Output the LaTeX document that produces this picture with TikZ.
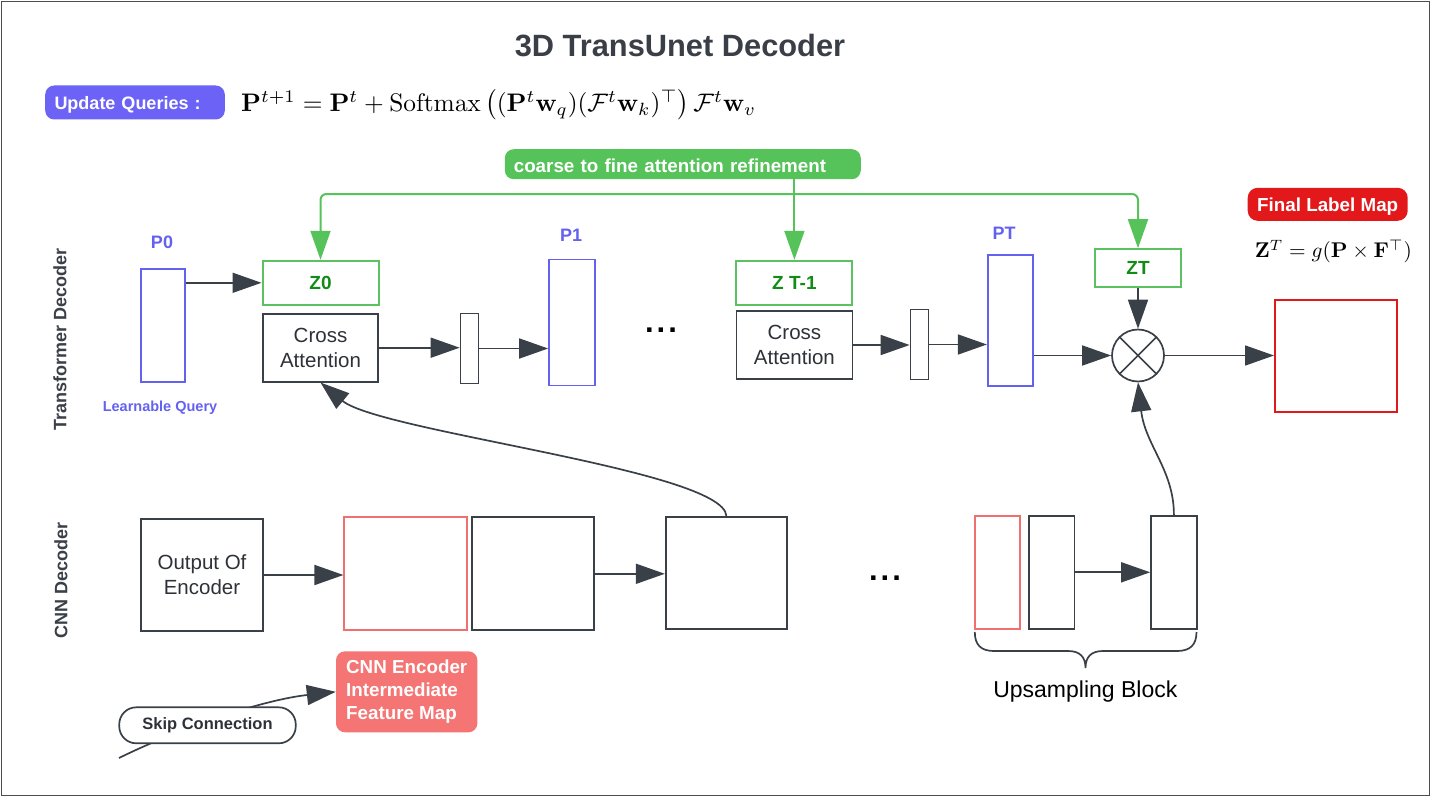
\documentclass[tikz,border=0pt]{standalone}
\usepackage{amsmath}
\usepackage[no-math]{fontspec}
\setmainfont{Liberation Sans}
\usetikzlibrary{arrows.meta,calc}
\definecolor{dk}{HTML}{3A4048}
\definecolor{dktext}{HTML}{2E3238}
\definecolor{ttl}{HTML}{3A3F47}
\definecolor{qb}{HTML}{6361F0}
\definecolor{qfill}{HTML}{6C63F6}
\definecolor{gr}{HTML}{56C25A}
\definecolor{gbox}{HTML}{5CC160}
\definecolor{zg}{HTML}{118C17}
\definecolor{rd}{HTML}{E3181B}
\definecolor{pk}{HTML}{F07070}
\definecolor{pkfill}{HTML}{F57474}
\definecolor{outerc}{HTML}{4D4D4D}
\newcommand{\fsz}[2]{\fontsize{#1}{#2}\selectfont}
\begin{document}
\begin{tikzpicture}[x=1pt,y=-1pt,
  sz/.style 2 args={minimum width=#1pt, minimum height=#2pt},
  capc/.style={text height=13.3pt, text depth=0pt},
  dkrect/.style={draw=dk, line width=1.7pt, fill=white, inner sep=0pt},
  qrect/.style={draw=qb, line width=1.7pt, inner sep=0pt},
  pkrect/.style={draw=pk, line width=1.7pt, inner sep=0pt},
  zbox/.style={draw=gbox, line width=2pt, inner sep=0pt, text=zg, font=\fsz{19}{23}\bfseries},
  catext/.style={align=center, font=\fsz{20.5}{25}, text=dktext},
  qlab/.style={text=qb, font=\fsz{18}{22}\bfseries},
  dotsn/.style={inner sep=0pt, font=\fsz{31}{31}\bfseries, text=black},
  arr/.style={draw=dk, line width=1.7pt, -{Triangle[length=29pt,width=20pt]}},
  garr/.style={draw=gr, line width=2pt, rounded corners=6pt, -{Triangle[length=29pt,width=20pt]}},
  sidelab/.style={rotate=90, font=\fsz{18}{22}\bfseries, text=dk},
]
\useasboundingbox (0,0) rectangle (1431,797);
\draw[outerc, line width=1.3pt] (1.5,1.5) rectangle (1429.5,795.5);

% title and formula
\node[font=\fsz{30.8}{36}\bfseries, text=ttl] (title) at (680,45.5) {3D TransUnet Decoder};
\node[fill=qfill, rounded corners=9pt, sz={179.6}{34}, capc, text width=161pt, inner xsep=9pt, align=left, text=white, font=\fsz{18}{22}\bfseries] (uq) at (135,102.5) {Update Queries :};
\node[anchor=west, inner sep=0pt] (eq) at (241,105) {\resizebox{515pt}{!}{$\mathbf{P}^{t+1}=\mathbf{P}^{t}+\operatorname{Softmax}\left((\mathbf{P}^{t}\mathbf{w}_{q})(\mathcal{F}^{t}\mathbf{w}_{k})^{\top}\right)\mathcal{F}^{t}\mathbf{w}_{v}$}};

% side labels
\node[sidelab] (tdl) at (60,339) {Transformer Decoder};
\node[sidelab] (cdl) at (61,580) {CNN Decoder};

% green banner
\node[fill=gr, rounded corners=9pt, sz={356}{30}, capc, text width=338pt, inner xsep=9pt, align=left, text=white, font=\fsz{18.8}{22}\bfseries] (banner) at (682.8,164.2) {\raisebox{-1.5pt}{coarse to fine attention refinement}};

% transformer row
\node[qrect, sz={44}{113}] (p0) at (163,325.5) {};
\node[qlab] (p0l) at (162,242) {P0};
\node[text=qb, font=\fsz{14.5}{17}\bfseries] (lq) at (160,408) {Learnable Query};
\node[zbox, sz={116}{44}] (z0) at (320.5,282.8) {Z0};
\node[dkrect, sz={115}{68}, catext] (ca1) at (320.5,347.7) {Cross\\Attention};
\node[dkrect, sz={18}{70}] (s1) at (469.5,348.5) {};
\node[qrect, sz={46}{126}] (p1) at (572,322.5) {};
\node[qlab] (p1l) at (571,235) {P1};
\node[dotsn] (dt1) at (661,330) {.\kern3pt.\kern3pt.};
\node[zbox, sz={116}{44}] (zt1) at (794.4,282.8) {Z T-1};
\node[dkrect, sz={116}{68.6}, catext] (ca2) at (794.4,345) {Cross\\Attention};
\node[dkrect, sz={18}{70}] (s2) at (919.5,344.5) {};
\node[qrect, sz={45}{131}] (pt) at (1010.2,320.2) {};
\node[qlab] (ptl) at (1004,233.5) {PT};
\node[zbox, sz={86}{38}] (zt) at (1138,268.2) {ZT};
\node[circle, draw=dk, line width=1.7pt, fill=white, minimum size=52pt, inner sep=0pt] (ox) at (1138,355.5) {};
\draw[dk, line width=1.7pt] (ox.north west) -- (ox.south east) (ox.north east) -- (ox.south west);
\node[draw=rd, line width=2pt, sz={122}{112}, inner sep=0pt] (lab) at (1336,355.7) {};
\node[fill=rd, rounded corners=10pt, sz={160}{33}, capc, text=white, font=\fsz{18.8}{22}\bfseries] (flm) at (1327.7,204.3) {\raisebox{-1pt}{Final Label Map}};
\node (zf) at (1333.3,251.5) {\resizebox{157pt}{!}{$\mathbf{Z}^{T}=g(\mathbf{P}\times\mathbf{F}^{\top})$}};

% green connectors
\coordinate (gj) at (0,194);
\draw[garr] (banner.south -| zt1.north) -- (zt1.north);
\draw[garr] (zt1.north |- gj) -| (z0.north);
\draw[garr] (zt1.north |- gj) -| (zt.north);

% transformer arrows
\draw[arr] (z0.west -| p0.east) -- (z0.west);
\draw[arr] (ca1.east) -- (ca1.east -| s1.west);
\draw[arr] (s1.east) -- (s1.east -| p1.west);
\draw[arr] (ca2.east) -- (ca2.east -| s2.west);
\draw[arr] (s2.east) -- (s2.east -| pt.west);
\draw[arr] (ox.west -| pt.east) -- (ox.west);
\draw[arr] (zt.south) -- (ox.north);
\draw[arr] (ox.east) -- (ox.east -| lab.west);

% CNN row
\node[dkrect, sz={121.5}{112.6}, catext] (enc) at (202,575) {Output Of\\Encoder};
\node[pkrect, sz={123}{113}] (pk1) at (405.8,573.8) {};
\node[dkrect, sz={122}{113}] (d1) at (532.8,573.8) {};
\node[dkrect, sz={121.4}{112.6}] (d2) at (726.4,573) {};
\node[dotsn] (dt2) at (885,578) {.\kern3pt.\kern3pt.};
\node[pkrect, sz={45}{113}] (u1) at (997.4,572.3) {};
\node[dkrect, sz={45.5}{113}] (u2) at (1051.6,572.3) {};
\node[dkrect, sz={45.7}{113}] (u3) at (1173.9,572.3) {};

\draw[arr] (enc.east) -- (enc.east -| pk1.west);
\draw[arr] (d1.east) -- (d1.east -| d2.west);
\draw[arr] (u2.east) -- (u2.east -| u3.west);
\draw[arr] (d2.north) .. controls (723,470) and (380,432) .. (ca1.south);
\draw[arr] (u3.north) .. controls (1174,470) and (1145,445) .. (ox.south);

% brace
\draw[dk, line width=1.7pt] (974.8,632) .. controls (974.8,645) and (981,651) .. (994,651) -- (1068,651) .. controls (1080,651) and (1085.5,657) .. (1085.5,668) .. controls (1085.5,657) and (1091,651) .. (1103,651) -- (1177,651) .. controls (1190,651) and (1196.5,645) .. (1196.5,632);
\node[font=\fsz{23}{27}, text=black] (ub) at (1085.3,692) {Upsampling Block};

% legend
\node[fill=pkfill, rounded corners=9pt, sz={141.4}{81}, align=left, text=white, font=\fsz{18.8}{23}\bfseries] (cnn) at (406.7,691.8) {CNN Encoder\\Intermediate\\Feature Map};
\coordinate (skst) at (119,758);
\draw[arr] (skst) .. controls (180,728) and (262,700) .. (cnn.west);
\node[draw=dk, line width=1.7pt, fill=white, rounded corners=17pt, sz={176.5}{36}, font=\fsz{16.5}{20}\bfseries, text=dktext] (skip) at (207.5,725.3) {Skip Connection};
\end{tikzpicture}
\end{document}
